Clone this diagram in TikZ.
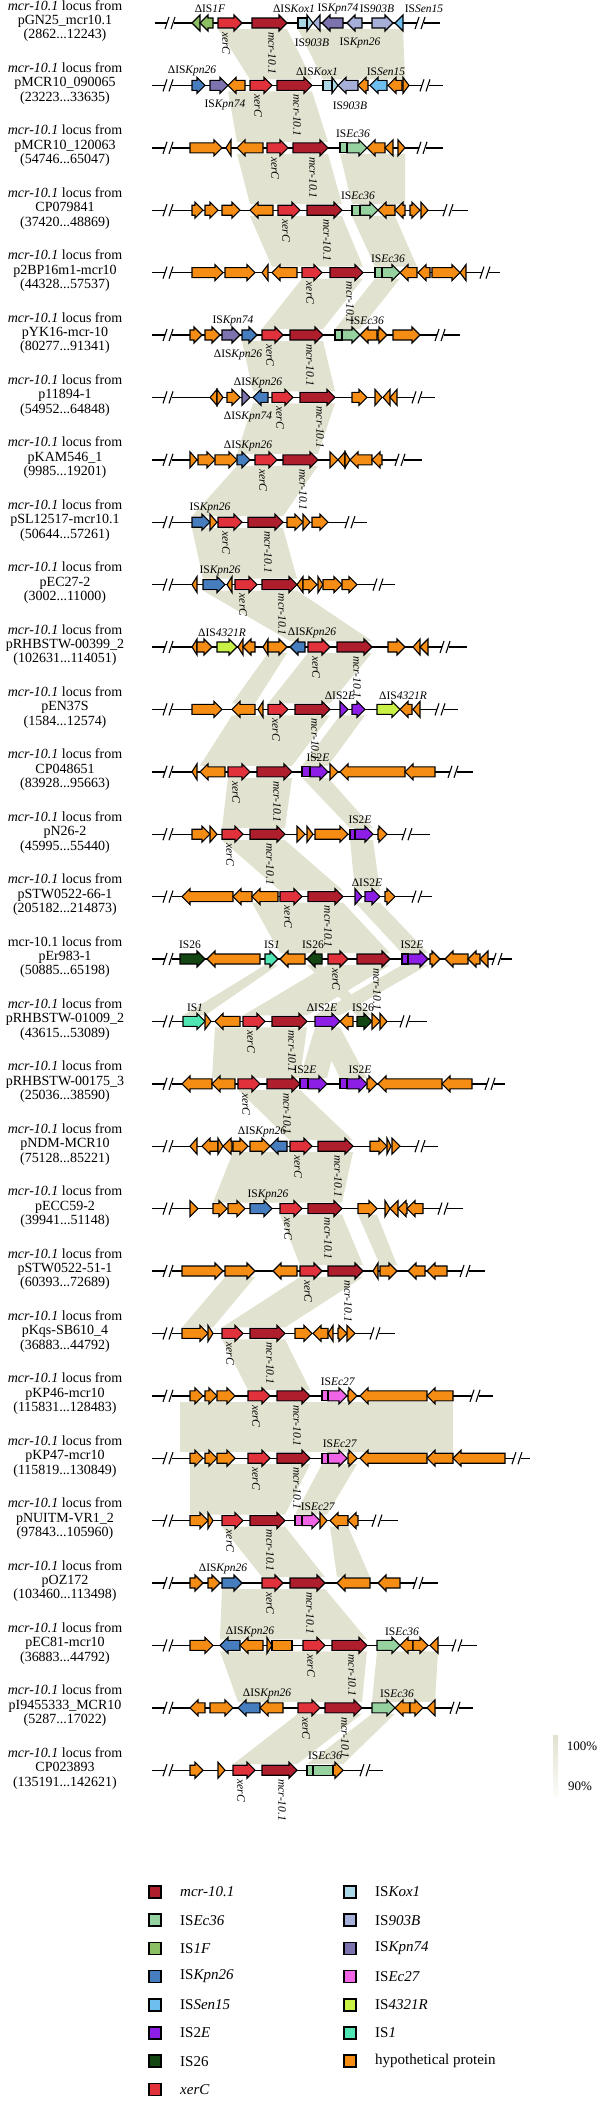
\documentclass[tikz,border=0pt]{standalone}
\usepackage{fontspec}
\setmainfont{Liberation Serif}

\definecolor{mcr}{RGB}{175,30,45}
\definecolor{xerc}{RGB}{225,50,60}
\definecolor{isec36}{RGB}{150,210,160}
\definecolor{is1f}{RGB}{140,190,100}
\definecolor{iskpn26}{RGB}{70,125,190}
\definecolor{issen15}{RGB}{110,190,240}
\definecolor{is2e}{RGB}{140,30,230}
\definecolor{is26}{RGB}{20,70,20}
\definecolor{iskox1}{RGB}{170,215,230}
\definecolor{is903b}{RGB}{165,175,215}
\definecolor{iskpn74}{RGB}{125,115,175}
\definecolor{isec27}{RGB}{240,100,230}
\definecolor{is4321r}{RGB}{200,240,70}
\definecolor{isone}{RGB}{80,230,180}
\definecolor{hyp}{RGB}{245,140,20}
\definecolor{bandc}{RGB}{226,226,208}

\tikzset{
  gene/.style={draw=black, line width=1.1pt, line join=miter},
  backbone/.style={line width=1.4pt},
  cut/.style={line width=1.1pt},
  locus/.style={align=center, font=\fontsize{14}{14.4}\selectfont, inner sep=0pt},
  isl/.style={font=\fontsize{11.5}{12}\selectfont, inner sep=1pt},
  genel/.style={font=\fontsize{11.5}{12}\selectfont\itshape, rotate=-90, anchor=west, inner sep=1pt},
  legsq/.style={draw=black, line width=1.6pt},
  legl/.style={font=\fontsize{15}{16}\selectfont, anchor=west, inner sep=0pt},
  scl/.style={font=\fontsize{13}{14}\selectfont, inner sep=0pt}
}

\newcounter{lab}
% one locus: index, label, line start, line end, breaks
\newcommand{\locus}[5]{%
  \pgfmathsetmacro{\ty}{23+(#1-1)*62.4}\def\trk{#1}%
  \node[locus] (loc#1) at (65,\ty-2) {#2};%
  \draw[backbone] (#3,\ty) -- (#4,\ty);%
  \foreach \k in {#5} {\brk{\k}}}
\newcommand{\brk}[1]{%
  \fill[white] ({#1-3.5},\ty-2) rectangle ({#1+3.5},\ty+2);
  \draw[cut] ({#1-5},\ty+6) -- ({#1-1},\ty-6) ({#1+1},\ty+6) -- ({#1+5},\ty-6);}
\newcommand{\gene}[3]{%
  \pgfmathsetmacro{\gl}{#2-#1}%
  \pgfmathsetmacro{\gh}{abs(\gl)<8 ? \gl : 8*sign(\gl)}%
  \filldraw[gene, fill=#3] (#1,\ty-5) -- ({#2-(\gh)},\ty-5) -- ({#2-(\gh)},\ty-8) -- (#2,\ty)
    -- ({#2-(\gh)},\ty+8) -- ({#2-(\gh)},\ty+5) -- (#1,\ty+5) -- cycle;}
\newcommand{\gbox}[3]{\filldraw[gene, fill=#3] (#1,\ty-5) rectangle (#2,\ty+5);}
\newcommand{\core}[2]{%
  \node[genel] (xerc\trk) at ({#1+8},\ty+8) {xerC};
  \node[genel] (mcr\trk) at ({#2+20},\ty+8) {mcr-10.1};}
\newcommand{\isup}[2]{\stepcounter{lab}\node[isl] (is\thelab) at (#1,\ty-14) {#2};}
\newcommand{\isdn}[2]{\stepcounter{lab}\node[isl] (is\thelab) at (#1,\ty+20) {#2};}

\begin{document}
\begin{tikzpicture}[x=1pt,y=-1pt]
\useasboundingbox (0,0) rectangle (600,2102);

% similarity bands
\foreach \i/\a/\b/\c/\d in {1/218/287/250/312, 1/298/403/323/405, 2/228/312/237/328,
    3/237/328/250/342, 3/340/405/352/405, 4/250/342/272/363, 4/352/395/375/417,
    5/302/363/262/323, 5/375/400/335/360, 6/242/323/253/335, 7/253/335/237/318,
    8/237/318/192/283, 9/192/283/203/297, 10/203/297/290/372,
    11/268/287/232/255, 11/308/372/268/330, 12/232/330/200/292, 12/340/365/302/328,
    13/228/292/222/285, 13/302/328/350/373, 14/222/285/280/343, 14/350/373/355/380,
    15/252/343/280/390, 15/355/380/402/428, 16/328/390/243/307, 16/402/428/315/340,
    16/307/322/357/372, 16/265/278/183/205, 17/215/307/212/300, 17/315/340/300/327,
    17/315/340/340/367, 18/238/300/290/353, 19/233/353/213/342, 20/280/342/300/363,
    20/358/377/380/397, 21/300/363/222/285, 21/225/255/182/213, 22/222/285/248/310,
    23/180/453/180/453, 24/190/310/190/285, 24/322/357/295/327, 25/222/285/262/325,
    25/330/348/337/370, 26/222/325/220/367, 27/220/367/238/362, 27/377/438/372/435,
    28/298/362/233/297, 28/372/395/307/343} {
  \pgfmathsetmacro{\ya}{23+(\i-1)*62.4+6}
  \pgfmathsetmacro{\yb}{23+\i*62.4-6}
  \fill[bandc] (\a,\ya) -- (\b,\ya) -- (\d,\yb) -- (\c,\yb) -- cycle;
}

% pGN25_mcr10.1
\locus{1}{\textit{mcr-10.1} locus from\\pGN25\_mcr10.1\\(2862...12243)}{155}{440}{170,420}
\foreach \a/\b/\c in {200/192/is1f, 213/200/is1f, 218/242/xerc, 252/287/mcr, 307/313/iskox1,
    320/313/is903b, 343/322/iskpn74, 362/347/is903b, 372/393/is903b, 403/395/issen15} {\gene{\a}{\b}{\c}}
\gbox{298}{307}{iskox1}
\core{218}{252}
\isup{210}{ΔIS\textit{1F}}\isup{294}{ΔIS\textit{Kox1}}\isup{338}{IS\textit{Kpn74}}
\isup{377}{IS\textit{903B}}\isup{424}{IS\textit{Sen15}}
\isdn{312}{IS\textit{903B}}\isdn{360}{IS\textit{Kpn26}}

% pMCR10_090065
\locus{2}{\textit{mcr-10.1} locus from\\pMCR10\_090065\\(23223...33635)}{152}{443}{168,425}
\foreach \a/\b/\c in {192/205/iskpn26, 210/228/iskpn74, 245/228/hyp, 250/272/xerc, 277/312/mcr,
    332/338/iskox1, 358/338/is903b, 368/358/hyp, 387/370/issen15, 402/388/hyp, 403/409/hyp} {\gene{\a}{\b}{\c}}
\gbox{323}{332}{iskox1}
\core{250}{277}
\isup{192}{ΔIS\textit{Kpn26}}\isup{317}{ΔIS\textit{Kox1}}\isup{386}{IS\textit{Sen15}}
\isdn{225}{IS\textit{Kpn74}}\isdn{350}{IS\textit{903B}}

% pMCR10_120063
\locus{3}{\textit{mcr-10.1} locus from\\pMCR10\_120063\\(54746...65047)}{152}{443}{168,422}
\foreach \a/\b/\c in {190/222/hyp, 231/226/hyp, 263/237/hyp, 267/288/xerc, 293/328/mcr,
    347/367/isec36, 385/367/hyp, 393/385/hyp, 398/405/hyp} {\gene{\a}{\b}{\c}}
\gbox{340}{347}{isec36}
\core{267}{293}
\isup{353}{IS\textit{Ec36}}

% CP079841
\locus{4}{\textit{mcr-10.1} locus from\\CP079841\\(37420...48869)}{152}{468}{168,448}
\foreach \a/\b/\c in {192/203/hyp, 205/218/hyp, 222/240/hyp, 273/250/hyp, 278/300/xerc, 307/342/mcr,
    360/378/isec36, 395/378/hyp, 405/395/hyp, 410/420/hyp, 421/428/hyp} {\gene{\a}{\b}{\c}}
\gbox{352}{360}{isec36}
\core{278}{307}
\isup{358}{IS\textit{Ec36}}

% p2BP16m1-mcr10
\locus{5}{\textit{mcr-10.1} locus from\\p2BP16m1-mcr10\\(44328...57537)}{152}{500}{168,485}
\foreach \a/\b/\c in {192/223/hyp, 225/255/hyp, 268/262/hyp, 297/272/hyp, 302/322/xerc, 330/363/mcr,
    382/400/isec36, 417/400/hyp, 430/418/hyp, 432/460/hyp, 466/460/hyp} {\gene{\a}{\b}{\c}}
\gbox{375}{382}{isec36}
\core{302}{330}
\isup{388}{IS\textit{Ec36}}

% pYK16-mcr-10
\locus{6}{\textit{mcr-10.1} locus from\\pYK16-mcr-10\\(80277...91341)}{152}{460}{168,440}
\foreach \a/\b/\c in {190/202/hyp, 205/220/hyp, 222/240/iskpn74, 242/257/iskpn26, 262/283/xerc, 290/323/mcr,
    342/360/isec36, 377/360/hyp, 378/387/hyp, 393/420/hyp} {\gene{\a}{\b}{\c}}
\gbox{335}{342}{isec36}
\core{262}{290}
\isup{233}{IS\textit{Kpn74}}\isup{367}{IS\textit{Ec36}}
\isdn{238}{ΔIS\textit{Kpn26}}

% p11894-1
\locus{7}{\textit{mcr-10.1} locus from\\p11894-1\\(54952...64848)}{152}{435}{168,417}
\foreach \a/\b/\c in {217/210/hyp, 217/223/hyp, 227/240/hyp, 242/250/iskpn74, 268/253/iskpn26, 272/293/xerc,
    300/335/mcr, 352/367/hyp, 375/382/hyp, 390/383/hyp, 397/390/hyp} {\gene{\a}{\b}{\c}}
\core{272}{300}
\isup{258}{ΔIS\textit{Kpn26}}
\isdn{248}{ΔIS\textit{Kpn74}}

% pKAM546_1
\locus{8}{\textit{mcr-10.1} locus from\\pKAM546\_1\\(9985...19201)}{152}{422}{168,400}
\foreach \a/\b/\c in {190/197/hyp, 198/215/hyp, 215/237/hyp, 237/250/iskpn26, 255/277/xerc, 283/318/mcr,
    330/338/hyp, 345/338/hyp, 345/350/hyp, 372/350/hyp, 382/372/hyp} {\gene{\a}{\b}{\c}}
\core{255}{283}
\isup{248}{ΔIS\textit{Kpn26}}

% pSL12517-mcr10.1
\locus{9}{\textit{mcr-10.1} locus from\\pSL12517-mcr10.1\\(50644...57261)}{152}{367}{168,350}
\foreach \a/\b/\c in {192/210/iskpn26, 210/217/hyp, 218/242/xerc, 248/283/mcr, 287/303/hyp,
    303/310/hyp, 312/328/hyp} {\gene{\a}{\b}{\c}}
\core{218}{248}
\isup{210}{IS\textit{Kpn26}}

% pEC27-2
\locus{10}{\textit{mcr-10.1} locus from\\pEC27-2\\(3002...11000)}{152}{395}{168,378}
\foreach \a/\b/\c in {197/192/hyp, 203/225/iskpn26, 232/227/hyp, 235/257/xerc, 262/297/mcr, 303/297/hyp,
    303/317/hyp, 318/323/hyp, 323/342/hyp, 342/357/hyp} {\gene{\a}{\b}{\c}}
\core{235}{262}
\isup{220}{IS\textit{Kpn26}}

% pRHBSTW-00399_2
\locus{11}{\textit{mcr-10.1} locus from\\pRHBSTW-00399\_2\\(102631...114051)}{152}{467}{168,445}
\foreach \a/\b/\c in {197/192/hyp, 197/212/hyp, 217/237/is4321r, 243/238/hyp, 255/243/hyp, 268/263/hyp,
    268/287/hyp, 305/290/iskpn26, 308/330/xerc, 337/372/mcr, 388/405/hyp, 420/413/hyp, 428/420/hyp} {\gene{\a}{\b}{\c}}
\core{308}{337}
\isup{222}{ΔIS\textit{4321R}}\isup{312}{ΔIS\textit{Kpn26}}

% pEN37S
\locus{12}{\textit{mcr-10.1} locus from\\pEN37S\\(1584...12574)}{152}{458}{168,440}
\foreach \a/\b/\c in {192/222/hyp, 255/232/hyp, 263/258/hyp, 268/288/xerc, 295/330/mcr, 340/348/is2e,
    352/365/is2e, 377/400/is4321r, 412/400/hyp, 420/413/hyp} {\gene{\a}{\b}{\c}}
\core{268}{295}
\isup{340}{ΔIS2\textit{E}}\isup{403}{ΔIS\textit{4321R}}

% CP048651
\locus{13}{\textit{mcr-10.1} locus from\\CP048651\\(83928...95663)}{152}{473}{168,453}
\foreach \a/\b/\c in {197/192/hyp, 225/200/hyp, 228/250/xerc, 257/292/mcr, 310/328/is2e, 330/338/hyp,
    405/340/hyp, 435/405/hyp} {\gene{\a}{\b}{\c}}
\gbox{302}{310}{is2e}
\core{228}{257}
\isup{318}{IS2\textit{E}}

% pN26-2
\locus{14}{\textit{mcr-10.1} locus from\\pN26-2\\(45995...55440)}{152}{430}{168,407}
\foreach \a/\b/\c in {192/210/hyp, 210/217/hyp, 222/243/xerc, 250/285/mcr, 297/305/hyp, 307/313/hyp,
    315/348/hyp, 355/373/is2e, 378/387/hyp} {\gene{\a}{\b}{\c}}
\gbox{350}{355}{is2e}
\core{222}{250}
\isup{360}{IS2\textit{E}}

% pSTW0522-66-1
\locus{15}{\textit{mcr-10.1} locus from\\pSTW0522-66-1\\(205182...214873)}{152}{432}{168,417}
\foreach \a/\b/\c in {233/182/hyp, 252/233/hyp, 278/252/hyp, 280/302/xerc, 308/343/mcr, 355/362/is2e,
    365/380/is2e, 385/395/hyp} {\gene{\a}{\b}{\c}}
\core{280}{308}
\isup{367}{ΔIS2\textit{E}}

% pEr983-1
\locus{16}{mcr-10.1 locus from\\pEr983-1\\(50885...65198)}{152}{512}{168,497}
\foreach \a/\b/\c in {180/205/is26, 260/207/hyp, 265/278/isone, 305/280/hyp, 322/307/is26, 328/348/xerc,
    357/390/mcr, 408/428/is2e, 430/440/hyp, 468/445/hyp, 480/468/hyp, 488/480/hyp} {\gene{\a}{\b}{\c}}
\gbox{402}{408}{is2e}
\core{328}{357}
\isup{190}{IS26}\isup{272}{IS\textit{1}}\isup{313}{IS26}\isup{412}{IS2\textit{E}}

% pRHBSTW-01009_2
\locus{17}{\textit{mcr-10.1} locus from\\pRHBSTW-01009\_2\\(43615...53089)}{152}{427}{168,405}
\foreach \a/\b/\c in {183/205/isone, 205/211/hyp, 240/215/hyp, 243/265/xerc, 272/307/mcr, 315/340/is2e,
    353/340/hyp, 357/372/is26, 372/380/hyp, 380/387/hyp} {\gene{\a}{\b}{\c}}
\core{243}{272}
\isup{195}{IS\textit{1}}\isup{322}{ΔIS2\textit{E}}\isup{363}{IS26}

% pRHBSTW-00175_3
\locus{18}{\textit{mcr-10.1} locus from\\pRHBSTW-00175\_3\\(25036...38590)}{152}{505}{168,490}
\foreach \a/\b/\c in {212/182/hyp, 235/212/hyp, 238/260/xerc, 267/300/mcr, 308/327/is2e, 347/367/is2e,
    367/377/hyp, 442/378/hyp, 472/442/hyp} {\gene{\a}{\b}{\c}}
\gbox{300}{308}{is2e}\gbox{340}{347}{is2e}
\core{238}{267}
\isup{305}{IS2\textit{E}}\isup{360}{IS2\textit{E}}

% pNDM-MCR10
\locus{19}{\textit{mcr-10.1} locus from\\pNDM-MCR10\\(75128...85221)}{152}{438}{168,420}
\foreach \a/\b/\c in {197/190/hyp, 218/202/hyp, 218/223/hyp, 232/223/hyp, 233/248/hyp, 250/270/hyp,
    287/270/iskpn26, 290/312/xerc, 318/353/mcr, 370/387/hyp, 387/391/hyp, 392/400/hyp} {\gene{\a}{\b}{\c}}
\core{290}{318}
\isup{262}{ΔIS\textit{Kpn26}}

% pECC59-2
\locus{20}{\textit{mcr-10.1} locus from\\pECC59-2\\(39941...51148)}{152}{463}{168,443}
\foreach \a/\b/\c in {190/198/hyp, 213/227/hyp, 228/245/hyp, 250/272/iskpn26, 280/302/xerc, 308/342/mcr,
    358/377/hyp, 385/390/hyp, 398/390/hyp, 407/398/hyp, 423/407/hyp} {\gene{\a}{\b}{\c}}
\core{280}{308}
\isup{268}{IS\textit{Kpn26}}

% pSTW0522-51-1
\locus{21}{\textit{mcr-10.1} locus from\\pSTW0522-51-1\\(60393...72689)}{152}{485}{168,465}
\foreach \a/\b/\c in {182/223/hyp, 225/255/hyp, 297/273/hyp, 300/322/xerc, 328/363/mcr, 378/373/hyp,
    380/397/hyp, 425/408/hyp, 447/427/hyp} {\gene{\a}{\b}{\c}}
\core{300}{328}

% pKqs-SB610_4
\locus{22}{\textit{mcr-10.1} locus from\\pKqs-SB610\_4\\(36883...44792)}{152}{395}{168,375}
\foreach \a/\b/\c in {182/208/hyp, 208/213/hyp, 222/243/xerc, 250/285/mcr, 295/312/hyp, 328/313/hyp,
    333/328/hyp, 338/347/hyp, 347/355/hyp} {\gene{\a}{\b}{\c}}
\core{222}{250}

% pKP46-mcr10
\locus{23}{\textit{mcr-10.1} locus from\\pKP46-mcr10\\(115831...128483)}{152}{493}{168,475}
\foreach \a/\b/\c in {190/203/hyp, 205/217/hyp, 217/235/hyp, 248/270/xerc, 277/310/mcr, 328/347/isec27,
    348/357/hyp, 427/360/hyp, 453/427/hyp} {\gene{\a}{\b}{\c}}
\gbox{322}{328}{isec27}
\core{248}{277}
\isup{338}{IS\textit{Ec27}}

% pKP47-mcr10
\locus{24}{\textit{mcr-10.1} locus from\\pKP47-mcr10\\(115819...130849)}{152}{530}{168,517}
\foreach \a/\b/\c in {190/203/hyp, 205/217/hyp, 217/235/hyp, 248/270/xerc, 277/310/mcr, 328/347/isec27,
    348/357/hyp, 427/360/hyp, 453/427/hyp, 505/453/hyp} {\gene{\a}{\b}{\c}}
\gbox{322}{328}{isec27}
\core{248}{277}
\isup{340}{IS\textit{Ec27}}

% pNUITM-VR1_2
\locus{25}{\textit{mcr-10.1} locus from\\pNUITM-VR1\_2\\(97843...105960)}{152}{398}{168,377}
\foreach \a/\b/\c in {190/208/hyp, 208/213/hyp, 222/243/xerc, 250/285/mcr, 302/320/isec27, 320/327/hyp,
    348/330/hyp, 358/348/hyp} {\gene{\a}{\b}{\c}}
\gbox{295}{302}{isec27}
\core{222}{250}
\isup{318}{IS\textit{Ec27}}

% pOZ172
\locus{26}{\textit{mcr-10.1} locus from\\pOZ172\\(103460...113498)}{152}{438}{168,418}
\foreach \a/\b/\c in {190/203/hyp, 208/220/hyp, 222/242/iskpn26, 262/283/xerc, 290/325/mcr, 370/337/hyp,
    400/378/hyp} {\gene{\a}{\b}{\c}}
\core{262}{290}
\isup{223}{ΔIS\textit{Kpn26}}

% pEC81-mcr10
\locus{27}{\textit{mcr-10.1} locus from\\pEC81-mcr10\\(36883...44792)}{152}{477}{168,457}
\foreach \a/\b/\c in {190/213/hyp, 240/220/iskpn26, 263/240/hyp, 267/272/hyp, 303/325/xerc, 332/367/mcr,
    377/400/isec36, 413/400/hyp, 413/428/hyp, 438/430/hyp} {\gene{\a}{\b}{\c}}
\gbox{272}{292}{hyp}
\core{303}{332}
\isup{250}{ΔIS\textit{Kpn26}}\isup{402}{IS\textit{Ec36}}

% pI9455333_MCR10
\locus{28}{\textit{mcr-10.1} locus from\\pI9455333\_MCR10\\(5287...17022)}{152}{473}{168,455}
\foreach \a/\b/\c in {205/190/hyp, 210/233/hyp, 260/238/iskpn26, 283/260/hyp, 298/320/xerc, 325/362/mcr,
    372/395/isec36, 410/395/hyp, 410/423/hyp, 435/427/hyp} {\gene{\a}{\b}{\c}}
\core{298}{325}
\isup{267}{ΔIS\textit{Kpn26}}\isup{397}{IS\textit{Ec36}}

% CP023893
\locus{29}{\textit{mcr-10.1} locus from\\CP023893\\(135191...142621)}{152}{383}{168,365}
\foreach \a/\b/\c in {190/203/hyp, 218/225/hyp, 233/255/xerc, 262/297/mcr, 333/343/hyp} {\gene{\a}{\b}{\c}}
\gbox{307}{313}{isec36}\gbox{313}{333}{isec36}
\core{233}{262}
\isup{325}{IS\textit{Ec36}}

% identity scale
\shade[top color=bandc, bottom color=bandc!15] (553,1735) rectangle (558,1795);
\node[scl] (hi) at (582,1746) {100\%};
\node[scl] (lo) at (580,1786) {90\%};

% legend
\foreach \c/\t [count=\k from 0] in {mcr/\textit{mcr-10.1}, isec36/IS\textit{Ec36}, is1f/IS\textit{1F},
    iskpn26/IS\textit{Kpn26}, issen15/IS\textit{Sen15}, is2e/IS2\textit{E}, is26/IS26, xerc/\textit{xerC}} {
  \pgfmathsetmacro{\ly}{1892+\k*28.2}
  \filldraw[legsq, fill=\c] (149,\ly-6) rectangle (161,\ly+6);
  \node[legl] (lega\k) at (180,\ly) {\t};
}
\foreach \c/\t [count=\k from 0] in {iskox1/IS\textit{Kox1}, is903b/IS\textit{903B}, iskpn74/IS\textit{Kpn74},
    isec27/IS\textit{Ec27}, is4321r/IS\textit{4321R}, isone/IS\textit{1}, hyp/hypothetical protein} {
  \pgfmathsetmacro{\ly}{1892+\k*28.2}
  \filldraw[legsq, fill=\c] (344,\ly-6) rectangle (356,\ly+6);
  \node[legl] (legb\k) at (375,\ly) {\t};
}
\end{tikzpicture}
\end{document}
